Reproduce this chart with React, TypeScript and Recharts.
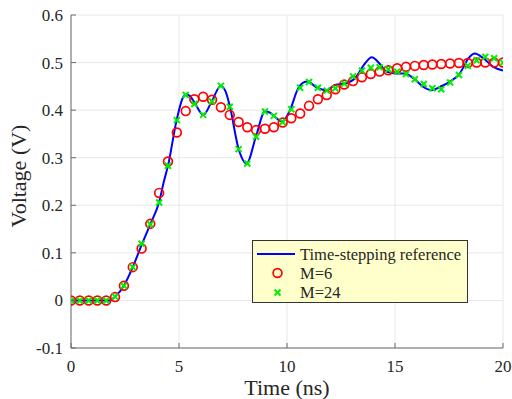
import {
  ComposedChart,
  Line,
  Scatter,
  XAxis,
  YAxis,
  CartesianGrid,
} from "recharts";

// sample times of the two approximations (ns)
const TIME = [
  0, 0.41, 0.82, 1.22, 1.63, 2.04, 2.45, 2.86, 3.27, 3.67,
  4.08, 4.49, 4.9, 5.31, 5.71, 6.12, 6.53, 6.94, 7.35, 7.76,
  8.16, 8.57, 8.98, 9.39, 9.8, 10.2, 10.61, 11.02, 11.43, 11.84,
  12.24, 12.65, 13.06, 13.47, 13.88, 14.29, 14.69, 15.1, 15.51, 15.92,
  16.33, 16.73, 17.14, 17.55, 17.96, 18.37, 18.78, 19.18, 19.59, 20,
];

const M6 = [
  0, 0, 0, 0, 0, 0.007, 0.031, 0.07, 0.109, 0.161,
  0.226, 0.292, 0.353, 0.398, 0.423, 0.428, 0.422, 0.406, 0.39, 0.375,
  0.364, 0.358, 0.361, 0.364, 0.374, 0.383, 0.393, 0.409, 0.423, 0.432,
  0.444, 0.454, 0.461, 0.469, 0.476, 0.481, 0.484, 0.488, 0.491, 0.493,
  0.495, 0.496, 0.497, 0.498, 0.499, 0.499, 0.5, 0.5, 0.5, 0.5,
];

const M24 = [
  0, 0, 0, 0, 0, 0.008, 0.031, 0.07, 0.119, 0.16,
  0.206, 0.283, 0.379, 0.432, 0.413, 0.39, 0.418, 0.451, 0.407, 0.318,
  0.288, 0.344, 0.397, 0.388, 0.375, 0.402, 0.447, 0.459, 0.447, 0.441,
  0.446, 0.456, 0.471, 0.483, 0.489, 0.49, 0.486, 0.481, 0.476, 0.465,
  0.455, 0.446, 0.444, 0.458, 0.474, 0.493, 0.505, 0.512, 0.509, 0.5,
];

// time-stepping reference curve
const REF_T = [
  0, 1.8, 2.04, 2.45, 2.86, 3.27, 3.67, 4.08, 4.3, 4.5,
  4.89, 5.2, 5.35, 5.5, 5.74, 6.13, 6.51, 6.93, 7.15, 7.36,
  7.75, 8.13, 8.56, 8.98, 9.2, 9.44, 9.78, 10.14, 10.52, 10.91,
  11.45, 11.84, 12.22, 12.69, 13.15, 13.61, 13.92, 14.3, 14.6, 15.08,
  15.46, 15.85, 16.31, 16.7, 17.08, 17.55, 18.0, 18.4, 18.7, 19.09,
  19.55, 20,
];
const REF_V = [
  0, 0, 0.008, 0.031, 0.07, 0.117, 0.16, 0.207, 0.25, 0.285,
  0.379, 0.428, 0.433, 0.43, 0.414, 0.39, 0.418, 0.451, 0.44, 0.407,
  0.32, 0.288, 0.344, 0.397, 0.395, 0.386, 0.376, 0.4, 0.446, 0.46,
  0.446, 0.442, 0.453, 0.456, 0.467, 0.498, 0.511, 0.497, 0.481, 0.477,
  0.477, 0.467, 0.449, 0.442, 0.449, 0.46, 0.477, 0.509, 0.519, 0.509,
  0.491, 0.483,
];

const X_TICKS = [0, 5, 10, 15, 20];
const Y_TICKS = [-0.1, 0, 0.1, 0.2, 0.3, 0.4, 0.5, 0.6];

const FONT = '"Liberation Serif", "DejaVu Serif", "Times New Roman", serif';
const AXIS = "#6b6b6b";
const TXT = "#262626";
const txt = (size: number) => ({ fontFamily: FONT, fontSize: size, fill: TXT });

const m6Data = TIME.map((t, i) => ({ t, v: M6[i] }));
const m24Data = TIME.map((t, i) => ({ t, v: M24[i] }));
const refData = REF_T.map((t, i) => ({ t, v: REF_V[i] }));

const BottomTick = (p: any) => (
  <g>
    <line x1={p.x} y1={p.y} x2={p.x} y2={p.y - 5} stroke={AXIS} />
    <text x={p.x} y={p.y + 24} textAnchor="middle" style={txt(17)}>
      {p.payload.value}
    </text>
  </g>
);

const TopTick = (p: any) => (
  <line x1={p.x} y1={p.y} x2={p.x} y2={p.y + 5} stroke={AXIS} />
);

const LeftTick = (p: any) => (
  <g>
    <line x1={p.x} y1={p.y} x2={p.x + 5} y2={p.y} stroke={AXIS} />
    <text x={p.x - 8} y={p.y} dy="0.35em" textAnchor="end" style={txt(17)}>
      {Math.round(p.payload.value * 10) / 10}
    </text>
  </g>
);

const RightTick = (p: any) => (
  <line x1={p.x} y1={p.y} x2={p.x - 5} y2={p.y} stroke={AXIS} />
);

const Circle = (p: any) => (
  <circle cx={p.cx} cy={p.cy} r={4.4} fill="none" stroke="#ff0000" strokeWidth={1.7} />
);

const Cross = (p: any) => (
  <g stroke="#00ee00" strokeWidth={2}>
    <line x1={p.cx - 3} y1={p.cy - 3} x2={p.cx + 3} y2={p.cy + 3} />
    <line x1={p.cx - 3} y1={p.cy + 3} x2={p.cx + 3} y2={p.cy - 3} />
  </g>
);

export default function App() {
  return (
    <div style={{ position: "fixed", left: 0, top: 0, width: 512, height: 399, background: "#fff" }}>
      <ComposedChart width={512} height={399} margin={{ top: 15, right: 9, bottom: 0, left: 0 }}>
        <CartesianGrid stroke="#e8e8e8" />
        <XAxis
          dataKey="t"
          type="number"
          domain={[0, 20]}
          ticks={X_TICKS}
          allowDataOverflow
          height={51}
          tickSize={0}
          tickMargin={0}
          tickLine={false}
          axisLine={{ stroke: AXIS }}
          tick={BottomTick}
        />
        <XAxis
          xAxisId="top"
          orientation="top"
          dataKey="t"
          type="number"
          domain={[0, 20]}
          ticks={X_TICKS}
          allowDataOverflow
          height={0}
          tickSize={0}
          tickMargin={0}
          tickLine={false}
          axisLine={{ stroke: AXIS }}
          tick={TopTick}
        />
        <YAxis
          type="number"
          domain={[-0.1, 0.6]}
          ticks={Y_TICKS}
          allowDataOverflow
          width={71}
          tickSize={0}
          tickMargin={0}
          tickLine={false}
          axisLine={{ stroke: AXIS }}
          tick={LeftTick}
        />
        <YAxis
          yAxisId="right"
          orientation="right"
          type="number"
          domain={[-0.1, 0.6]}
          ticks={Y_TICKS}
          allowDataOverflow
          width={0}
          tickSize={0}
          tickMargin={0}
          tickLine={false}
          axisLine={{ stroke: AXIS }}
          tick={RightTick}
        />
        <Line
          data={refData}
          dataKey="v"
          type="monotone"
          stroke="#0000ff"
          strokeWidth={2}
          dot={false}
          activeDot={false}
          isAnimationActive={false}
        />
        <Scatter data={m6Data} dataKey="v" shape={Circle} isAnimationActive={false} />
        <Scatter data={m24Data} dataKey="v" shape={Cross} isAnimationActive={false} />
      </ComposedChart>

      {/* axis titles and legend box */}
      <svg
        width={512}
        height={399}
        style={{ position: "absolute", left: 0, top: 0, pointerEvents: "none" }}
      >
        <text x={287} y={395} textAnchor="middle" style={txt(22)}>
          Time (ns)
        </text>
        <text transform="translate(26, 176) rotate(-90)" textAnchor="middle" style={txt(22)}>
          Voltage (V)
        </text>
        <g transform="translate(252, 240)">
          <rect x={0.5} y={0.5} width={215} height={62} fill="#ffffcc" stroke="#333" />
          <line x1={5} y1={14} x2={43} y2={14} stroke="#0000ff" strokeWidth={2} />
          <text x={48} y={14} dy="0.35em" style={txt(16.5)}>
            Time-stepping reference
          </text>
          <circle cx={25.5} cy={33} r={4.4} fill="none" stroke="#ff0000" strokeWidth={1.7} />
          <text x={48} y={33} dy="0.35em" style={txt(16.5)}>
            M=6
          </text>
          <g stroke="#00ee00" strokeWidth={2}>
            <line x1={22.5} y1={49.5} x2={28.5} y2={55.5} />
            <line x1={22.5} y1={55.5} x2={28.5} y2={49.5} />
          </g>
          <text x={48} y={52.5} dy="0.35em" style={txt(16.5)}>
            M=24
          </text>
        </g>
      </svg>
    </div>
  );
}
